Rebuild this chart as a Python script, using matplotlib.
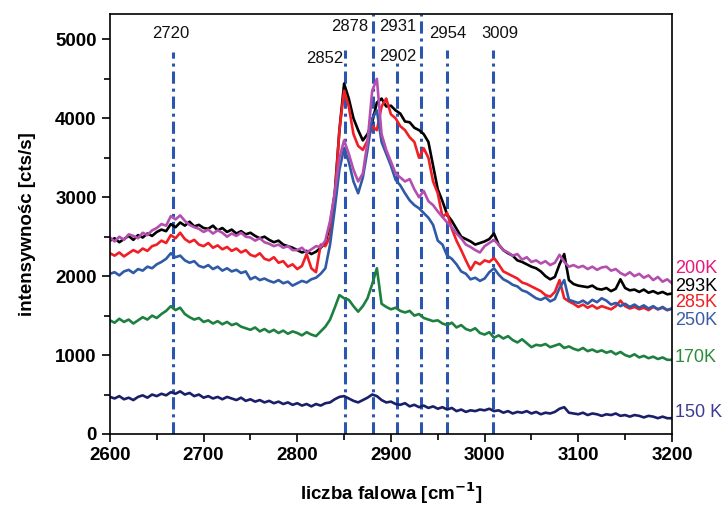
import numpy as np
import matplotlib
matplotlib.use("Agg")
import matplotlib.pyplot as plt

plt.rcParams['font.family'] = ['Liberation Sans', 'DejaVu Sans']

# wavenumber grid, 5 cm-1 step
wavenumber = np.arange(2600, 3201, 5)

k293 = [2450, 2480, 2430, 2470, 2510, 2460, 2520, 2490, 2540, 2510,
        2560, 2590, 2570, 2660, 2620, 2680, 2640, 2690, 2630, 2650,
        2610, 2600, 2640, 2580, 2610, 2560, 2590, 2540, 2570, 2530,
        2550, 2510, 2480, 2500, 2460, 2430, 2450, 2400, 2380, 2360,
        2330, 2300, 2320, 2280, 2310, 2360, 2420, 2650, 3050, 3850,
        4440, 4250, 4000, 3850, 3720, 3800, 3950, 4200, 4250, 4150,
        4160, 4100, 4060, 3960, 3950, 3880, 3850, 3800, 3700, 3400,
        3100, 2950, 2780, 2700, 2600, 2500, 2470, 2440, 2400, 2420,
        2440, 2470, 2540, 2400, 2330, 2290, 2260, 2200, 2180, 2150,
        2120, 2100, 2060, 2000, 1960, 1990, 2150, 2280, 1950, 1900,
        1880, 1870, 1860, 1880, 1840, 1830, 1850, 1810, 1840, 1960,
        1850, 1820, 1830, 1800, 1830, 1790, 1810, 1780, 1800, 1770,
        1780]

k285 = [2290, 2260, 2300, 2250, 2290, 2330, 2300, 2350, 2320, 2380,
        2400, 2450, 2420, 2520, 2480, 2550, 2470, 2430, 2460, 2400,
        2380, 2420, 2360, 2390, 2340, 2370, 2320, 2350, 2300, 2330,
        2270, 2250, 2290, 2220, 2200, 2240, 2170, 2190, 2120, 2150,
        2090, 2130, 2280, 2100, 2050, 2400, 2380, 2500, 3000, 3850,
        4350, 4150, 3800, 3650, 3600, 3720, 3900, 3850, 4150, 4250,
        4050, 4000, 3900, 3850, 3760, 3700, 3500, 3620, 3500, 3200,
        3050, 2750, 2800, 2600, 2450, 2330, 2200, 2080, 2180, 2150,
        2200, 2180, 2230, 2150, 2060, 2030, 2000, 1970, 1920, 1900,
        1870, 1840, 1810, 1760, 1740, 1800, 1950, 1720, 1680, 1650,
        1610, 1640, 1600, 1630, 1590, 1620, 1600, 1580, 1620, 1690,
        1620, 1590, 1610, 1580, 1600, 1570, 1610, 1580, 1600, 1570,
        1590]

k250 = [2030, 2050, 2010, 2060, 2080, 2040, 2090, 2070, 2120, 2100,
        2150, 2180, 2220, 2290, 2240, 2260, 2200, 2170, 2190, 2130,
        2110, 2140, 2090, 2120, 2070, 2100, 2060, 2080, 2040, 2060,
        1960, 1990, 1950, 1970, 1940, 1920, 1950, 1910, 1930, 1880,
        1910, 1940, 1920, 1960, 1980, 2030, 2100, 2400, 2850, 3350,
        3620, 3450, 3200, 3050, 3250, 3600, 4000, 4100, 3700, 3550,
        3400, 3220, 3150, 3050, 2960, 2900, 2860, 2800, 2740, 2650,
        2450, 2400, 2260, 2220, 2150, 2060, 2030, 1960, 1980, 1940,
        1970, 2050, 2100, 2020, 1960, 1930, 1890, 1870, 1820, 1800,
        1760, 1720, 1700, 1730, 1680, 1710, 1850, 1950, 1700, 1680,
        1660, 1690, 1650, 1700, 1670, 1720, 1690, 1640, 1660, 1620,
        1650, 1610, 1640, 1600, 1630, 1590, 1620, 1580, 1610, 1570,
        1590]

k200 = [2490, 2440, 2500, 2460, 2530, 2510, 2480, 2550, 2520, 2580,
        2610, 2660, 2640, 2760, 2720, 2770, 2700, 2650, 2620, 2600,
        2560, 2590, 2540, 2580, 2550, 2500, 2540, 2510, 2550, 2500,
        2490, 2450, 2480, 2430, 2410, 2380, 2400, 2360, 2380, 2330,
        2330, 2360, 2300, 2340, 2380, 2370, 2450, 2700, 3050, 3500,
        3720, 3550, 3350, 3200, 3300, 3700, 4350, 4500, 3800, 3600,
        3450, 3300, 3250, 3200, 3230, 3100, 3000, 3080, 2950, 2900,
        2820, 2750, 2680, 2620, 2540, 2480, 2400, 2370, 2330, 2300,
        2380, 2420, 2460, 2400, 2330, 2300, 2260, 2280, 2210, 2240,
        2180, 2200, 2160, 2190, 2140, 2170, 2270, 2180, 2120, 2140,
        2110, 2130, 2090, 2120, 2080, 2110, 2120, 2070, 2090, 2040,
        2010, 2050, 2000, 2030, 1980, 2010, 1950, 1990, 1930, 1960,
        1910]

k170 = [1440, 1410, 1460, 1420, 1450, 1400, 1440, 1480, 1450, 1500,
        1470, 1520, 1560, 1620, 1570, 1600, 1520, 1480, 1450, 1470,
        1420, 1440, 1400, 1430, 1390, 1420, 1380, 1400, 1360, 1340,
        1320, 1350, 1300, 1330, 1290, 1320, 1280, 1310, 1270, 1300,
        1280, 1250, 1290, 1260, 1240, 1300, 1360, 1450, 1600, 1760,
        1720, 1700, 1620, 1550, 1620, 1720, 1900, 2100, 1650, 1610,
        1580, 1600, 1560, 1540, 1560, 1500, 1520, 1470, 1450, 1430,
        1440, 1400, 1380, 1410, 1350, 1380, 1330, 1310, 1340, 1280,
        1260, 1290, 1220, 1250, 1210, 1240, 1190, 1160, 1200, 1150,
        1100, 1130, 1120, 1140, 1100, 1120, 1140, 1090, 1110, 1080,
        1060, 1090, 1050, 1070, 1040, 1060, 1030, 1050, 1010, 1040,
        1000, 980, 1010, 970, 990, 960, 980, 950, 970, 940,
        940]

k150 = [470, 450, 480, 440, 460, 430, 470, 490, 460, 500,
        480, 510, 490, 530, 510, 540, 500, 520, 480, 500,
        460, 480, 450, 470, 440, 470, 450, 430, 460, 420,
        440, 410, 430, 400, 420, 390, 410, 380, 400, 370,
        390, 360, 380, 350, 380, 360, 390, 400, 440, 470,
        480, 450, 420, 400, 430, 460, 500, 480, 430, 400,
        410, 380, 370, 390, 350, 370, 340, 360, 330, 350,
        320, 340, 310, 330, 290, 310, 280, 300, 290, 310,
        300, 320, 290, 300, 270, 290, 260, 280, 270, 290,
        260, 280, 250, 270, 260, 280, 320, 340, 270, 260,
        250, 270, 240, 260, 250, 230, 250, 240, 260, 230,
        240, 220, 240, 230, 210, 230, 220, 200, 220, 200,
        200]

# band positions and their labels
band_pos = [2667, 2851, 2881, 2906, 2932, 2960, 3009]
band_top = [4835, 4860, 5320, 4710, 5320, 4860, 4860]
band_labels = ['2720', '2852', '2878', '2902', '2931', '2954', '3009']
label_x = [2665, 2829, 2856, 2907, 2907, 2961, 3016]
label_y = [5075, 4760, 5165, 4785, 5165, 5075, 5075]

series = [k293, k285, k250, k200, k170, k150]
temps = ['293K', '285K', '250K', '200K', '170K', '150 K']
line_colors = ['#000000', '#f01f25', '#2f5aa8', '#b44fb0', '#1e8040', '#1a1f6a']
text_colors = ['#000000', '#ee2024', '#3b5ba8', '#e8187c', '#2e8b3a', '#3c3a94']
text_y = [1873, 1670, 1443, 2100, 975, 278]

fig = plt.figure(figsize=(7.28, 5.05), dpi=100)
ax = fig.add_axes([0.151, 0.1406, 0.772, 0.8314])

for i in range(len(band_pos)):
    ax.plot([band_pos[i], band_pos[i]], [0, band_top[i]], color='#2a55b0',
            lw=2.2, linestyle=(0, (4, 1.6, 1, 1.6)), zorder=1)
    ax.text(label_x[i], label_y[i], band_labels[i], ha='center', va='center',
            fontsize=12, color='#111111')

for y, c in zip(series, line_colors):
    ax.plot(wavenumber, y, color=c, lw=1.9, zorder=2)

for t, c, ty in zip(temps, text_colors, text_y):
    ax.text(3203, ty, t, color=c, fontsize=13, ha='left', va='center',
            clip_on=False)

ax.set_xlim(2600, 3200)
ax.set_ylim(0, 5320)
ax.set_xticks(np.arange(2600, 3201, 100))
ax.set_xticks(np.arange(2650, 3200, 100), minor=True)
ax.set_yticks(np.arange(0, 5001, 1000))
ax.set_yticks(np.arange(500, 5001, 1000), minor=True)
ax.tick_params(which='both', direction='out', top=False, right=False, width=1.2)
ax.tick_params(which='major', length=6, labelsize=13.5)
ax.tick_params(which='minor', length=4)
for lab in ax.get_xticklabels() + ax.get_yticklabels():
    lab.set_fontweight('bold')
for s in ax.spines.values():
    s.set_linewidth(1.2)

ax.set_xlabel('liczba falowa [cm$^{\\mathbf{-1}}$]', fontsize=13.5, fontweight='bold', labelpad=12)
ax.set_ylabel('intensywnośc [cts/s]', fontsize=13.5, fontweight='bold', labelpad=14)

fig.savefig('out.png', dpi=100)
